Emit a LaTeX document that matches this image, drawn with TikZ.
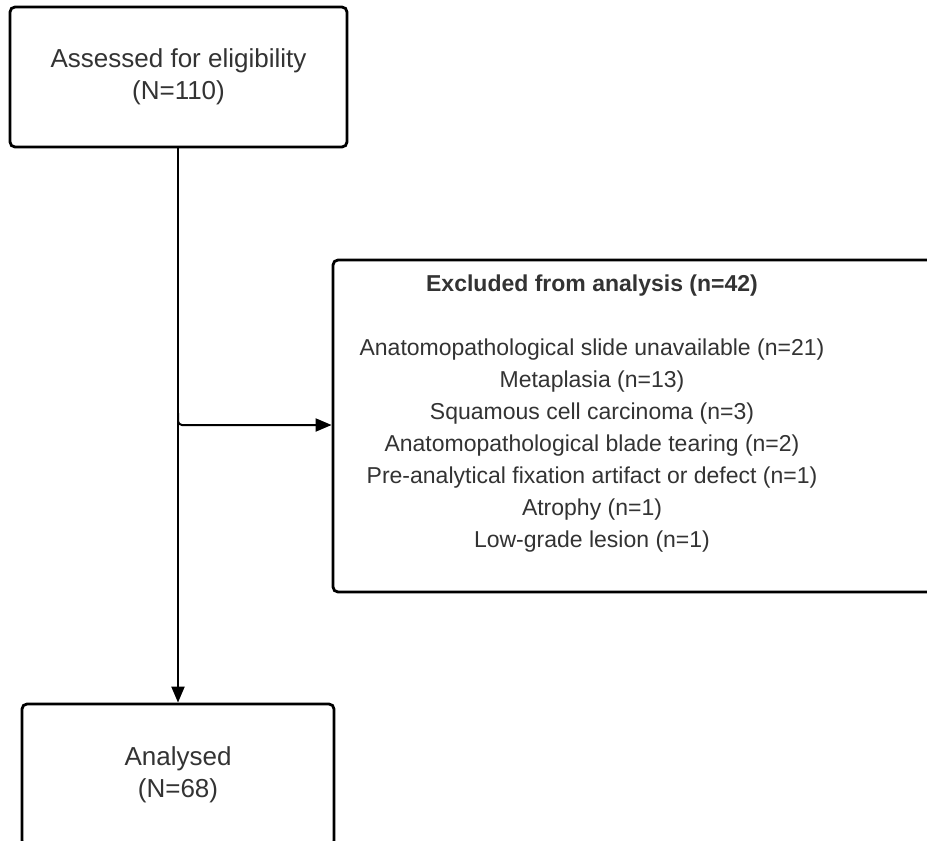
\documentclass[tikz,border=0pt]{standalone}
\usepackage{fontspec}
\setmainfont{Liberation Sans}
\usepackage{xcolor}
\usetikzlibrary{positioning, arrows.meta, calc}
\definecolor{txtgray}{HTML}{333333}

\begin{document}
\begin{tikzpicture}[x=1pt, y=-1pt,
		box/.style={draw, line width=2.8pt, rounded corners=5pt, fill=white, inner sep=0pt},
		big/.style={text=txtgray, align=center, font=\fontsize{26}{32}\selectfont},
		small/.style={text=txtgray, align=center, font=\fontsize{23}{32}\selectfont},
		conn/.style={line width=2pt, -{Triangle[length=16pt, width=13pt]}}]
		\useasboundingbox (0,0) rectangle (927,841);
		
		%Boxes
		\node (assessed) at (178.5,77) [box, minimum width=337pt, minimum height=140pt]{};
		\node (assessedtext) at (178.5,77) [big]{Assessed for eligibility\\(N=110)};
		
		\node (excluded) at (642,426) [box, minimum width=618pt, minimum height=332pt]{};
		\node (excludedtitle) at (592,286) [small, font=\fontsize{23}{32}\selectfont\bfseries]{Excluded from analysis (n=42)};
		\node (excludedlist) at (592,446) [small]{Anatomopathological slide unavailable (n=21)\\
		Metaplasia (n=13)\\
		Squamous cell carcinoma (n=3)\\
		Anatomopathological blade tearing (n=2)\\
		Pre-analytical fixation artifact or defect (n=1)\\
		Atrophy (n=1)\\
		Low-grade lesion (n=1)};
		
		\node (analysed) at (178,775) [box, minimum width=312pt, minimum height=142pt]{};
		\node (analysedtext) at (178,775) [big]{Analysed\\(N=68)};
		
		%Arrows
		\coordinate (branch) at (178,425);
		\draw[conn] (assessed.south -| analysed.north) -- (analysed.north);
		\draw[conn, rounded corners=4pt] ($(branch)+(0,-12)$) -- (branch) -- (branch -| excluded.west);
	\end{tikzpicture}
\end{document}
